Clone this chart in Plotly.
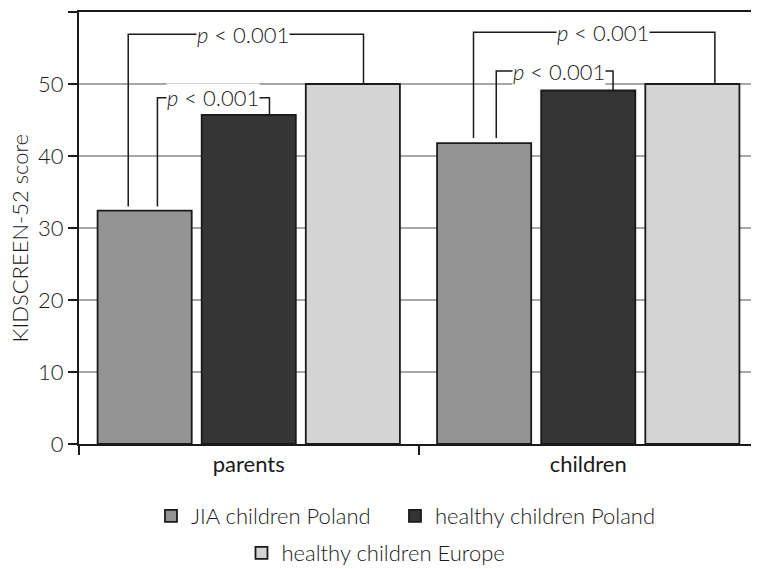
import plotly.graph_objects as go

categories = ["parents", "children"]
series_names = ["JIA children Poland", "healthy children Poland", "healthy children Europe"]
jia_poland = [32.4, 41.8]
healthy_poland = [45.7, 49.1]
healthy_europe = [50.0, 50.0]
y_ticks = [0, 10, 20, 30, 40, 50, 60]
y_title = "KIDSCREEN-52 score"
p_label = "<i>p</i> &lt; 0.001"

colors = ["#939393", "#353535", "#d4d4d4"]
FONT = "Lato"
FS = 22
INK = "#1a1a1a"

fig = go.Figure()
for name, vals, col, lg in zip(series_names, [jia_poland, healthy_poland, healthy_europe], colors,
                               ["legend", "legend2", "legend3"]):
    fig.add_trace(go.Bar(x=categories, y=vals, name=name,
                         marker=dict(color=col, line=dict(color=INK, width=1.8)),
                         legend=lg))

# significance brackets: (x_left, y_left_bottom, x_right, y_right_bottom, y_top, x_text)
brackets = [
    (-0.355, 33.0, 0.338, 50.0, 56.9, -0.016),
    (-0.269, 33.0, 0.061, 45.7, 48.1, -0.106),
    (0.662, 42.5, 1.373, 50.0, 57.2, 1.043),
    (0.729, 42.5, 1.073, 49.1, 51.8, 0.913),
]
for xl, yl, xr, yr, yt, xt in brackets:
    fig.add_shape(type="path",
                  path=f"M {xl} {yl} L {xl} {yt} L {xr} {yt} L {xr} {yr}",
                  xref="x", yref="y", line=dict(color=INK, width=1.5))
    fig.add_annotation(x=xt, y=yt, xref="x", yref="y", text=p_label, showarrow=False,
                       font=dict(family=FONT, size=FS, color=INK, weight=300),
                       bgcolor="white", borderpad=0)

# y-axis title as rotated annotation
fig.add_annotation(x=-0.0875, y=0.477, xref="paper", yref="paper", text=y_title,
                   textangle=-90, showarrow=False, xanchor="center", yanchor="middle",
                   font=dict(family=FONT, size=FS, color=INK, weight=300))

legend_common = dict(orientation="h", xanchor="left", xref="container",
                     yanchor="middle", yref="container",
                     font=dict(size=FS, weight=300), itemwidth=30)

fig.update_layout(
    width=751, height=561,
    margin=dict(l=71, r=1, t=4, b=125, autoexpand=False),
    plot_bgcolor="white", paper_bgcolor="white",
    font=dict(family=FONT, size=FS, color=INK, weight=300),
    barmode="group", bargap=0.08, bargroupgap=0.096,
    legend=dict(x=0.1904, y=0.0945, **legend_common),
    legend2=dict(x=0.5153, y=0.0945, **legend_common),
    legend3=dict(x=0.3109, y=0.0285, **legend_common),
    showlegend=True,
)
fig.update_xaxes(showline=True, linecolor=INK, linewidth=2, mirror=True,
                 ticks="outside", tickson="boundaries", ticklen=9, tickwidth=2, tickcolor=INK,
                 tickfont=dict(size=FS, color=INK, weight=400), showgrid=False, automargin=False)
fig.update_yaxes(range=[0, 60], tickvals=y_ticks, showline=True, linecolor=INK, linewidth=2,
                 mirror=True, ticks="outside", ticklen=9, tickwidth=2, tickcolor=INK,
                 showgrid=True, gridcolor="#a6a6a6", gridwidth=1.5, zeroline=False,
                 tickfont=dict(size=FS, color=INK, weight=300), automargin=False)

fig.write_html("out.html")
